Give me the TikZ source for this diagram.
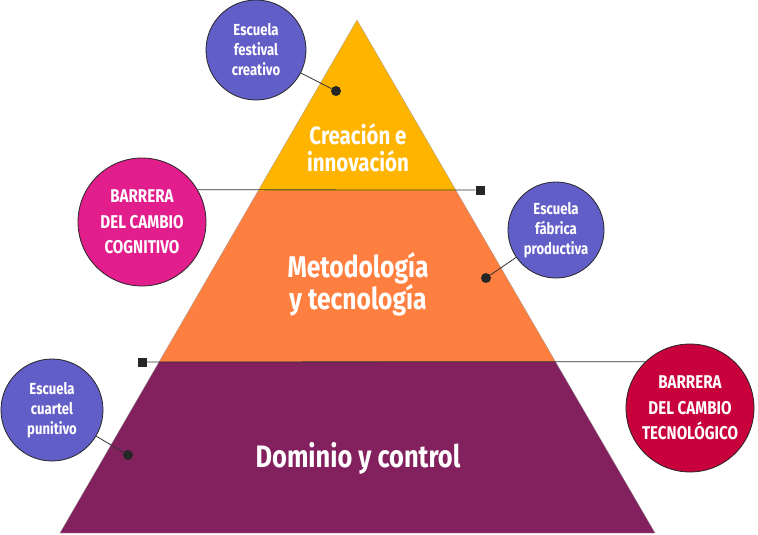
\documentclass[tikz,border=0pt]{standalone}
\usepackage{fontspec}
\setmainfont{Fira Sans}[FakeStretch=0.82]
\usetikzlibrary{calc}
\definecolor{pyGold}{RGB}{255,180,0}
\definecolor{pyOrange}{RGB}{255,127,65}
\definecolor{pyPlum}{RGB}{130,33,94}
\definecolor{pyViolet}{RGB}{98,94,200}
\definecolor{pyMagenta}{RGB}{225,30,140}
\definecolor{pyCrimson}{RGB}{200,0,60}

\begin{document}
\begin{tikzpicture}[
  x=1pt, y=-1pt,
  bubble/.style={circle, draw=black!85, line width=0.8pt, text=white, align=center, inner sep=0pt},
  escuela/.style={bubble, fill=pyViolet, font=\fontsize{16}{20}\selectfont\bfseries},
  barrera/.style={bubble, minimum size=128pt, font=\fontsize{18.5}{25.5}\selectfont\bfseries},
  level/.style={text=white, align=center},
  dot/.style={circle, fill=black!85, inner sep=0pt, minimum size=10pt},
  pin/.style={rectangle, fill=black!85, inner sep=0pt, minimum size=9pt},
  wire/.style={draw=black!80, line width=0.8pt},
]
\useasboundingbox (0,0) rectangle (758,535);
% pyramid
\coordinate (apex) at (357,20);
\coordinate (bl) at (60,533);
\coordinate (br) at (655,533);
\coordinate (l1) at ($(apex)!1/3!(bl)$);
\coordinate (r1) at ($(apex)!1/3!(br)$);
\coordinate (l2) at ($(apex)!2/3!(bl)$);
\coordinate (r2) at ($(apex)!2/3!(br)$);
\fill[pyGold] (apex) -- (r1) -- (l1) -- cycle;
\fill[pyOrange] (l1) -- (r1) -- (r2) -- (l2) -- cycle;
\fill[pyPlum] (l2) -- (r2) -- (br) -- (bl) -- cycle;
\draw[black!40, line width=0.3pt] (apex) -- (br) -- (bl) -- cycle;

\node[level, font=\fontsize{25}{27}\selectfont\bfseries] (creacion) at (358,148) {Creación e\\innovación};
\node[level, font=\fontsize{30}{32}\selectfont\bfseries] (metodo) at (358,284) {Metodología\\y tecnología};
\node[level, font=\fontsize{31}{32}\selectfont\bfseries] (dominio) at (358,458) {Dominio y control};

% barriers
\node[barrera, fill=pyMagenta] (bcog) at (142,222) {BARRERA\\DEL CAMBIO\\COGNITIVO};
\node[barrera, fill=pyCrimson] (btec) at (690,408) {BARRERA\\DEL CAMBIO\\TECNOLÓGICO};
\node[pin] (sq1) at (480,190) {};
\node[pin] (sq2) at (142,362) {};
\draw[wire] (bcog.30) -- (sq1);
\draw[wire] (sq2) -- (btec.134);

% schools
\node[escuela, minimum size=100pt] (festival) at (256,50) {Escuela\\festival\\creativo};
\node[escuela, minimum size=96pt] (fabrica) at (556,230) {Escuela\\fábrica\\productiva};
\node[escuela, minimum size=102pt] (cuartel) at (52,410) {Escuela\\cuartel\\punitivo};
\node[dot] (d1) at (336,91) {};
\node[dot] (d2) at (486,278) {};
\node[dot] (d3) at (128,455) {};
\draw[wire] (festival) -- (d1);
\draw[wire] (fabrica) -- (d2);
\draw[wire] (cuartel) -- (d3);
\end{tikzpicture}
\end{document}
